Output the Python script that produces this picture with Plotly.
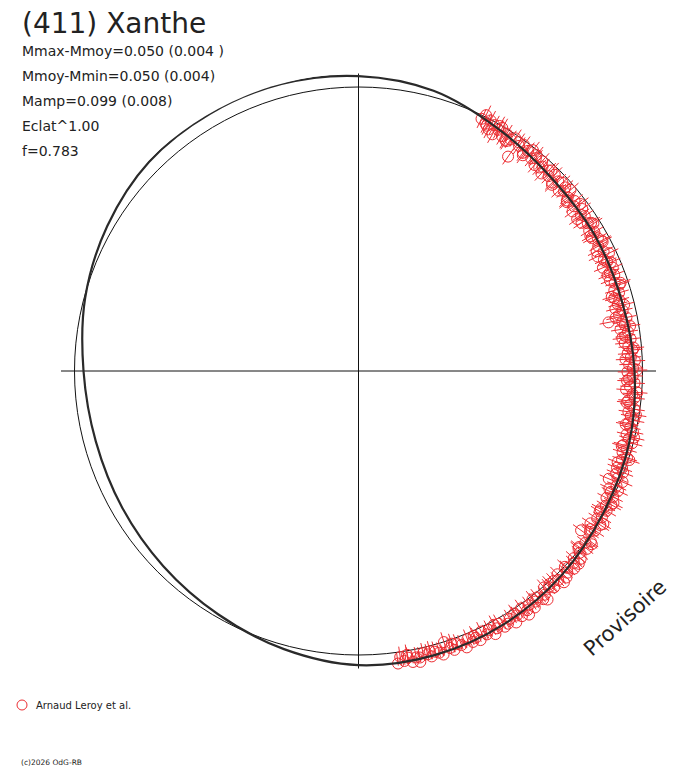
import plotly.graph_objects as go

# ---- data (phase angle in degrees, delta magnitude) ----
model_deg = [0, 15, 30, 45, 60, 75, 90, 105, 120, 135, 150, 165,
             180, 195, 210, 225, 240, 255, 270, 285, 300, 315, 330, 345, 360]
model_dmag = [-0.041, -0.023, 0.017, 0.043, 0.045, 0.045, 0.031, 0.015, 0.004, -0.015, -0.030, -0.038,
              -0.038, -0.015, 0.012, 0.031, 0.043, 0.047, 0.035, 0.004, -0.023, -0.045, -0.049, -0.049, -0.041]

obs_deg = [
    26.0, 26.5, 27.2, 27.8, 28.3, 28.9, 29.5, 30.1, 30.6, 31.4, 32.0, 32.7, 33.3, 34.0, 34.9,
    35.5, 36.2, 37.0, 37.6, 38.3, 39.1, 39.8, 40.5, 41.2, 42.0, 42.8, 43.5, 44.3, 45.0,
    45.8, 46.5, 47.3, 48.0, 48.8, 49.5, 50.3, 51.0, 51.8, 52.6, 53.3, 54.1, 54.9, 55.6, 56.4,
    57.2, 57.9, 58.7, 59.5,
    60.3, 61.0, 61.8, 62.5, 63.3, 64.0, 64.8, 65.6, 66.3, 67.1, 67.9, 68.6, 69.4, 70.2, 71.0,
    71.7, 72.5, 73.3, 74.1, 74.8,
    75.6, 76.4, 77.1, 77.9, 78.7, 79.4, 80.2, 81.0, 81.7, 82.5, 83.3, 84.0, 84.8, 85.6, 86.3,
    87.1, 87.9, 88.6, 89.4,
    90.2, 91.0, 91.7, 92.5, 93.3, 94.0, 94.8, 95.6, 96.3, 97.1, 97.9, 98.6, 99.4, 100.2, 101.0,
    101.7, 102.5, 103.3, 104.0, 104.8,
    105.6, 106.3, 107.1, 107.9, 108.6, 109.4, 110.2, 111.0, 111.7, 112.5, 113.3, 114.0, 114.8,
    115.6, 116.3, 117.1, 117.9, 118.6, 119.4,
    120.2, 121.0, 121.7, 122.5, 123.3, 124.0, 124.8, 125.6, 126.3, 127.1, 127.9, 128.6, 129.4,
    130.2, 131.0, 131.7, 132.5, 133.3, 134.0, 134.8,
    135.6, 136.3, 137.1, 137.9, 138.6, 139.4, 140.2, 141.0, 141.7, 142.5, 143.3, 144.0, 144.8,
    145.6, 146.3, 147.1, 147.9, 148.6, 149.4,
    150.2, 151.0, 151.7, 152.5, 153.3, 154.0, 154.8, 155.6, 156.3, 157.1, 157.9, 158.6, 159.4,
    160.2, 161.0, 161.7, 162.5, 163.3, 164.0, 164.8,
    165.6, 166.3, 167.1, 167.9, 168.6, 169.4, 170.2, 171.0, 171.7,
    79.0,
    27.6, 29.9, 32.4, 35.0, 37.3, 39.5, 41.6, 43.9, 46.1, 48.4, 50.7, 53.0, 55.2, 57.5, 59.8,
    62.1, 64.4, 66.7, 69.0, 71.4, 73.7, 76.0, 78.3, 80.6, 82.9, 85.2, 87.5, 89.8, 92.1, 94.4,
    96.7, 99.0, 101.3, 103.6, 105.9, 108.2, 110.5, 112.8, 115.1, 117.4, 119.7, 122.0, 124.3,
    126.6, 128.9, 131.2, 133.5, 135.8, 138.1, 140.4, 142.7, 145.0, 147.3, 149.6, 151.9, 154.2,
    156.5, 158.8, 161.1, 163.4, 165.7, 168.0, 170.3, 172.3,
]
obs_dmag = [
    0.013, -0.007, 0.023, 0.003, 0.037, 0.012, 0.047, 0.020, 0.006, 0.034, 0.017, 0.042, 0.027, 0.013, 0.090,
    0.029, 0.015, 0.042, 0.024, 0.010, 0.039, 0.027, 0.051, 0.020, 0.035, 0.058, 0.030, 0.046, 0.025,
    0.054, 0.033, 0.025, 0.057, 0.042, 0.020, 0.047, 0.062, 0.035, 0.050, 0.067, 0.030, 0.048, 0.038, 0.064,
    0.044, 0.026, 0.055, 0.040,
    0.061, 0.040, 0.031, 0.054, 0.069, 0.044, 0.028, 0.057, 0.049, 0.074, 0.037, 0.055, 0.042, 0.066, 0.051,
    0.035, 0.062, 0.047, 0.071, 0.054,
    0.064, 0.078, 0.051, 0.069, 0.042, 0.061, 0.054, 0.074, 0.046, 0.059, 0.039, 0.064, 0.051, 0.036, 0.056,
    0.044, 0.029, 0.052, 0.037,
    0.059, 0.038, 0.052, 0.030, 0.047, 0.062, 0.035, 0.026, 0.050, 0.040, 0.021, 0.043, 0.031, 0.016, 0.036,
    0.025, 0.011, 0.033, 0.020, 0.004,
    0.035, 0.018, 0.030, 0.007, 0.023, 0.036, 0.012, 0.002, 0.026, 0.014, 0.045, 0.006, -0.007,
    0.016, 0.000, 0.021, -0.008, 0.009, -0.003,
    0.019, 0.000, 0.013, -0.010, 0.025, -0.005, 0.008, 0.040, -0.016, -0.002, -0.021, 0.007, -0.009,
    -0.026, -0.005, -0.017, -0.032, -0.012, -0.024, -0.034,
    -0.002, -0.019, -0.010, -0.029, -0.015, -0.004, -0.027, -0.036, -0.017, -0.025, -0.041, -0.021, -0.033,
    -0.014, -0.040, -0.027, -0.048, -0.024, -0.036,
    -0.040, -0.019, -0.031, -0.047, -0.022, -0.034, -0.015, -0.043, -0.028, -0.038, -0.021, -0.048, -0.033,
    -0.024, -0.041, -0.029, -0.001, -0.045, -0.034, -0.026,
    -0.040, -0.029, -0.021, -0.034, -0.031, -0.045, -0.026, -0.036, -0.019,
    0.118,
    0.028, 0.005, 0.040, 0.018, 0.050, 0.016, 0.046, 0.022, 0.061, 0.029, 0.058, 0.025, 0.070, 0.032, 0.062,
    0.030, 0.075, 0.036, 0.068, 0.029, 0.080, 0.040, 0.085, 0.034, 0.072, 0.030, 0.066, 0.022, 0.060, 0.018,
    0.055, 0.012, 0.045, 0.002, 0.040, -0.004, 0.031, -0.009, 0.027, -0.012, 0.020, -0.018, 0.013,
    -0.025, 0.005, -0.033, -0.002, -0.040, -0.008, -0.047, -0.012, -0.050, -0.016, -0.052, -0.014, -0.055,
    -0.018, -0.054, -0.016, -0.052, -0.020, -0.050, -0.015, -0.042,
]
ERR = 0.040

stats_lines = ["Mmax-Mmoy=0.050 (0.004 )", "Mmoy-Mmin=0.050 (0.004)", "Mamp=0.099 (0.008)",
               "Eclat^1.00", "f=0.783"]
title_text = "(411) Xanthe"
legend_name = "Arnaud Leroy et al."

# ---- scale: magnitude -> radius (1 = mean brightness) ----
def rad(m):
    return 10 ** (-0.4 * m)

W, H = 688, 768
OFF = 8                 # page body margin of the browser
CX, CY = 358.5 - OFF, 371.0 - OFF
R_UNIT = 284.0          # pixels for r = 1
R_EDGE = 297.5          # pixel half-length of the cross axes
RMAX = R_EDGE / R_UNIT

RED = "rgb(236,45,50)"

fig = go.Figure()

# error bars (radial)
eb_r, eb_t = [], []
for t, m in zip(obs_deg, obs_dmag):
    eb_r += [rad(m + ERR), rad(m - ERR), None]
    eb_t += [t, t, None]
fig.add_trace(go.Scatterpolar(r=eb_r, theta=eb_t, mode="lines",
                              line=dict(color=RED, width=1), showlegend=False, hoverinfo="skip"))
# observations
fig.add_trace(go.Scatterpolar(r=[rad(m) for m in obs_dmag], theta=obs_deg, mode="markers",
                              marker=dict(symbol="circle-open", size=11, color=RED, line=dict(width=1, color=RED)),
                              name=legend_name, showlegend=False))
# model
fig.add_trace(go.Scatterpolar(r=[rad(m) for m in model_dmag], theta=model_deg, mode="lines",
                              line=dict(color="#2a2a2a", width=2.2, shape="spline"),
                              showlegend=False, hoverinfo="skip"))

fig.update_layout(
    width=W, height=H, margin=dict(l=0, r=0, t=0, b=0),
    paper_bgcolor="white", plot_bgcolor="white", showlegend=False,
    polar=dict(
        domain=dict(x=[(CX - R_EDGE) / W, (CX + R_EDGE) / W],
                    y=[(H - CY - R_EDGE) / H, (H - CY + R_EDGE) / H]),
        bgcolor="white",
        radialaxis=dict(range=[0, RMAX], tickvals=[1.0], showticklabels=False, ticks="",
                        showgrid=True, gridcolor="#111", gridwidth=1, showline=False),
        angularaxis=dict(rotation=90, direction="clockwise", tickvals=[0, 90, 180, 270],
                         showticklabels=False, ticks="", showgrid=True, gridcolor="#111",
                         gridwidth=1, showline=False),
    ),
)

FONT = "DejaVu Sans"

def px(x, y):
    return (x - OFF) / W, 1 - (y - OFF) / H

ann = []
x, y = px(20, 23)
ann.append(dict(text=title_text, x=x, y=y, xref="paper", yref="paper",
                xanchor="left", yanchor="middle", showarrow=False,
                font=dict(family=FONT, size=28, color="#222")))
for i, s in enumerate(stats_lines):
    x, y = px(20, 51 + 25 * i)
    ann.append(dict(text=s, x=x, y=y, xref="paper", yref="paper",
                    xanchor="left", yanchor="middle", showarrow=False,
                    font=dict(family=FONT, size=14, color="#222")))
x, y = px(34, 705)
ann.append(dict(text=legend_name, x=x, y=y, xref="paper", yref="paper",
                xanchor="left", yanchor="middle", showarrow=False,
                font=dict(family=FONT, size=10, color="#222")))
x, y = px(19, 762)
ann.append(dict(text="(c)2026 OdG-RB", x=x, y=y, xref="paper", yref="paper",
                xanchor="left", yanchor="middle", showarrow=False,
                font=dict(family=FONT, size=7.5, color="#222")))
x, y = px(625, 618)
ann.append(dict(text="Provisoire", x=x, y=y, xref="paper", yref="paper",
                xanchor="center", yanchor="middle", showarrow=False, textangle=-42,
                font=dict(family=FONT, size=21, color="#222")))
fig.update_layout(annotations=ann)

# legend symbol
x0, y0 = px(17, 710)
x1, y1 = px(27, 700)
fig.add_shape(type="circle", xref="paper", yref="paper",
              x0=x0, x1=x1, y0=y0, y1=y1, line=dict(color=RED, width=1))

fig.write_html("out.html")
